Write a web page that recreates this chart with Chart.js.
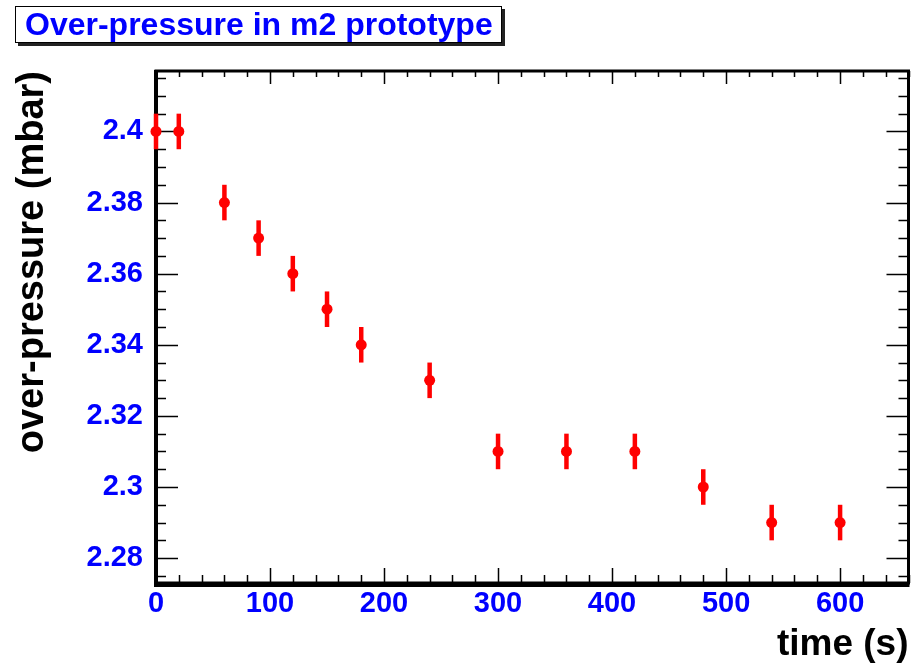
<!DOCTYPE html>
<html>
<head>
<meta charset="utf-8">
<script src="https://cdn.jsdelivr.net/npm/chart.js@4/dist/chart.umd.min.js"></script>
<style>
  html, body { margin: 0; padding: 0; background: #fff; }
  #wrap { position: relative; width: 914px; height: 667px; }
  #title {
    position: absolute; left: 15px; top: 6px; width: 476px; height: 35px;
    border: 1px solid #000; box-shadow: 3px 3px 0 #222; background: #fff;
    font: bold 32px "Liberation Sans", Arial, sans-serif; color: #0000ff;
    line-height: 35px; padding-left: 9px; box-sizing: content-box; white-space: nowrap; overflow: visible;
  }
  canvas { position: absolute; left: 0; top: 0; }
</style>
</head>
<body>
<div id="wrap">
  <canvas id="c" width="914" height="667"></canvas>
  <div id="title">Over-pressure in m2 prototype</div>
</div>
<script>
// ---- data ----
const timeValues = [0, 20, 60, 90, 120, 150, 180, 240, 300, 360, 420, 480, 540, 600];
const pressureValues = [2.40, 2.40, 2.38, 2.37, 2.36, 2.35, 2.34, 2.33, 2.31, 2.31, 2.31, 2.30, 2.29, 2.29];
const pressureErrors = [0.005, 0.005, 0.005, 0.005, 0.005, 0.005, 0.005, 0.005, 0.005, 0.005, 0.005, 0.005, 0.005, 0.005];
const xTickValues = [0, 100, 200, 300, 400, 500, 600];
const xTickLabels = ['0', '100', '200', '300', '400', '500', '600'];
const yTickValues = [2.28, 2.30, 2.32, 2.34, 2.36, 2.38, 2.40];
const yTickLabels = ['2.28', '2.3', '2.32', '2.34', '2.36', '2.38', '2.4'];
const xRange = [0, 660];
const yRange = [2.273, 2.417];
const xMinorStep = 20;
const yMinorStep = 0.005;

const points = timeValues.map((t, i) => ({ x: t, y: pressureValues[i] }));
const FONT = '"Liberation Sans", Arial, sans-serif';

const errorBarPlugin = {
  id: 'errorBars',
  beforeDatasetsDraw(chart) {
    const { ctx, scales: { x, y } } = chart;
    ctx.save();
    ctx.strokeStyle = '#ff0000';
    ctx.lineWidth = 4.5;
    ctx.lineCap = 'butt';
    timeValues.forEach((t, i) => {
      const px = x.getPixelForValue(t);
      const top = y.getPixelForValue(pressureValues[i] + pressureErrors[i]);
      const bot = y.getPixelForValue(pressureValues[i] - pressureErrors[i]);
      ctx.beginPath();
      ctx.moveTo(px, top);
      ctx.lineTo(px, bot);
      ctx.stroke();
    });
    ctx.restore();
  }
};

const framePlugin = {
  id: 'rootFrame',
  beforeDatasetsDraw(chart) {
    const { ctx, chartArea: a, scales: { x, y } } = chart;
    ctx.save();
    ctx.strokeStyle = '#000';
    ctx.lineWidth = 1.5;
    ctx.beginPath();
    // x ticks (bottom & top)
    for (let v = xRange[0]; v <= xRange[1] + 1e-9; v += xMinorStep) {
      const px = Math.round(x.getPixelForValue(v)) + 0.5;
      const major = Math.abs(v % 100) < 1e-9;
      const lb = major ? 15 : 8;
      const lt = major ? 13 : 6;
      ctx.moveTo(px, a.bottom); ctx.lineTo(px, a.bottom - lb);
      ctx.moveTo(px, a.top); ctx.lineTo(px, a.top + lt);
    }
    // y ticks (left & right)
    const n = Math.round((yRange[1] - yRange[0]) / yMinorStep) + 2;
    const start = Math.ceil(yRange[0] / yMinorStep - 1e-6) * yMinorStep;
    for (let k = 0; k < n; k++) {
      const v = start + k * yMinorStep;
      if (v > yRange[1] + 1e-9) break;
      const py = Math.round(y.getPixelForValue(v)) + 0.5;
      const major = yTickValues.some(t => Math.abs(t - v) < 1e-6);
      const l = major ? 22 : 10;
      ctx.moveTo(a.left, py); ctx.lineTo(a.left + l, py);
      ctx.moveTo(a.right, py); ctx.lineTo(a.right - l, py);
    }
    ctx.stroke();
    // frame
    ctx.lineWidth = 3;
    ctx.strokeRect(a.left, a.top, a.right - a.left, a.bottom - a.top);
    ctx.lineWidth = 4;
    ctx.beginPath();
    ctx.moveTo(a.left, a.top - 1); ctx.lineTo(a.left, a.bottom + 2);
    ctx.lineTo(a.right + 1, a.bottom + 2);
    ctx.stroke();
    ctx.restore();
  }
};

new Chart(document.getElementById('c'), {
  type: 'scatter',
  data: {
    datasets: [{
      data: points,
      backgroundColor: '#ff0000',
      borderColor: '#ff0000',
      pointRadius: 5.5,
      pointHoverRadius: 5.5,
      borderWidth: 0,
      clip: false
    }]
  },
  options: {
    responsive: false,
    animation: false,
    events: [],
    layout: { padding: { left: 0, top: 71, right: 2, bottom: 0 } },
    plugins: { legend: { display: false }, tooltip: { enabled: false } },
    scales: {
      x: {
        type: 'linear',
        min: xRange[0], max: xRange[1],
        afterBuildTicks(s) { s.ticks = xTickValues.map(v => ({ value: v })); },
        afterFit(s) { s.height = 84; },
        grid: { display: false, drawTicks: false },
        border: { display: false },
        ticks: {
          autoSkip: false, maxRotation: 0, padding: 4,
          color: '#0000ff',
          font: { family: FONT, weight: 'bold', size: 29 },
          callback(v) { const i = xTickValues.indexOf(v); return i >= 0 ? xTickLabels[i] : ''; }
        },
        title: {
          display: true, text: 'time (s)', align: 'end',
          color: '#000', padding: { top: 0, bottom: 4 },
          font: { family: FONT, weight: 'bold', size: 37, lineHeight: 1 }
        }
      },
      y: {
        type: 'linear',
        min: yRange[0], max: yRange[1],
        afterBuildTicks(s) { s.ticks = yTickValues.map(v => ({ value: v })); },
        afterFit(s) { s.width = 156; },
        grid: { display: false, drawTicks: false },
        border: { display: false },
        ticks: {
          autoSkip: false, padding: 13,
          color: '#0000ff',
          font: { family: FONT, weight: 'bold', size: 29 },
          callback(v) {
            const i = yTickValues.findIndex(t => Math.abs(t - v) < 1e-6);
            return i >= 0 ? yTickLabels[i] : '';
          }
        },
        title: {
          display: true, text: 'over-pressure (mbar)', align: 'end',
          color: '#000', padding: { top: 14, bottom: 0 },
          font: { family: FONT, weight: 'bold', size: 38, lineHeight: 1 }
        }
      }
    }
  },
  plugins: [framePlugin, errorBarPlugin]
});
</script>
</body>
</html>
